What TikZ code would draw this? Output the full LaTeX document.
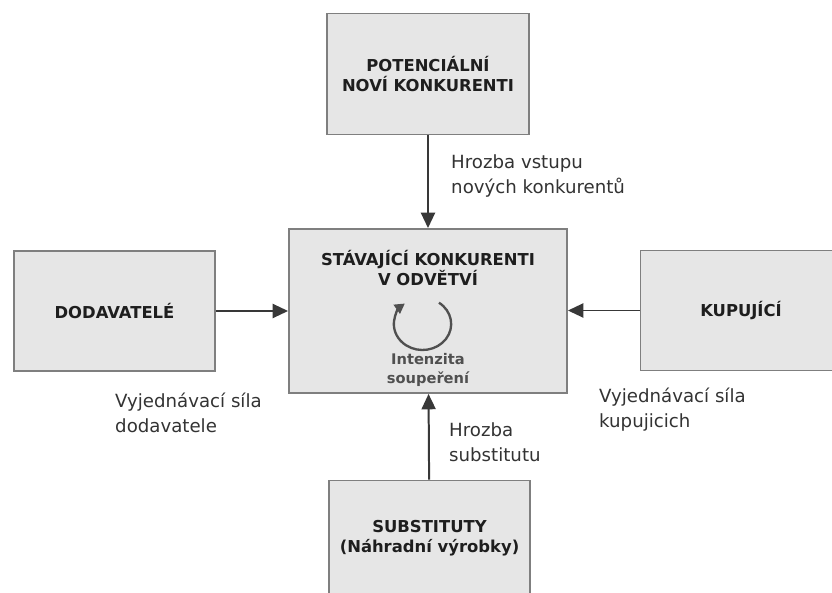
\documentclass[tikz,border=0pt]{standalone}
\usepackage{fontspec}
\setmainfont{DejaVu Sans}
\usetikzlibrary{arrows.meta,positioning}
\definecolor{boxfill}{HTML}{E6E6E6}
\definecolor{boxline}{HTML}{7F7F7F}
\definecolor{arrowgray}{HTML}{383838}
\definecolor{textgray}{HTML}{1E1E1E}
\definecolor{cyclegray}{HTML}{505050}

\begin{document}
\begin{tikzpicture}[
  x=0.03cm, y=-0.03cm,
  force/.style={draw=boxline, line width=1.6pt, fill=boxfill, minimum width=6.03cm, minimum height=3.6cm, font=\bfseries\fontsize{14}{17}\selectfont, text=textgray, align=center},
  arr/.style={-{Triangle[length=0.46cm, width=0.42cm]}, line width=1.7pt, draw=arrowgray},
  lbl/.style={font=\fontsize{15.5}{21.5}\selectfont, text=black!80, align=left, anchor=west, inner sep=0pt}
]
  \useasboundingbox (0,0) rectangle (832,593);
  \fill[white] (0,0) rectangle (832,593);

  % five forces
  \node[force, minimum width=8.34cm, minimum height=4.92cm] (rivals) at (428,311) {};
  \node[force, minimum width=6.06cm, minimum height=3.63cm] (entrants) at (428,74) {POTENCIÁLNÍ\\NOVÍ KONKURENTI};
  \node[force] (suppliers) at (114.5,311) {DODAVATELÉ};
  \node[force] (buyers) at (741,310.5) {KUPUJÍCÍ};
  \node[force, minimum height=3.45cm] (substitutes) at (429.5,538) {SUBSTITUTY\\(Náhradní výrobky)};

  % inside the rivalry box
  \node[font=\bfseries\fontsize{14}{17}\selectfont, text=textgray, align=center] (rivalsTitle) at (428,268) {STÁVAJÍCÍ KONKURENTI\\V ODVĚTVÍ};
  \coordinate (spin) at (422.5,324);
  \draw[cyclegray, line width=2pt, -{Triangle[length=0.3cm, width=0.32cm]}]
    ([shift={(55:0.86cm and 0.78cm)}]spin) arc[start angle=55, end angle=-232, x radius=0.86cm, y radius=0.78cm];
  \node[font=\bfseries\fontsize{12.5}{15.5}\selectfont, text=cyclegray, align=center] (rivalry) at (428,370) {Intenzita\\soupeření};

  \draw[arr] (entrants) -- (rivals);
  \draw[arr] (suppliers.east) -- (suppliers.east -| rivals.west);
  \draw[arr] (buyers.west) -- (buyers.west -| rivals.east);
  \draw[arr] (substitutes) -- (rivals);

  \node[lbl] (entryThreat) at (451,176) {Hrozba vstupu\\nových konkurentů};
  \node[lbl] (supplierPower) at (115,413) {Vyjednávací síla\\dodavatele};
  \node[lbl] (buyerPower) at (599,410) {Vyjednávací síla\\kupujicich};
  \node[lbl] (substituteThreat) at (449,442) {Hrozba\\substitutu};
\end{tikzpicture}
\end{document}
